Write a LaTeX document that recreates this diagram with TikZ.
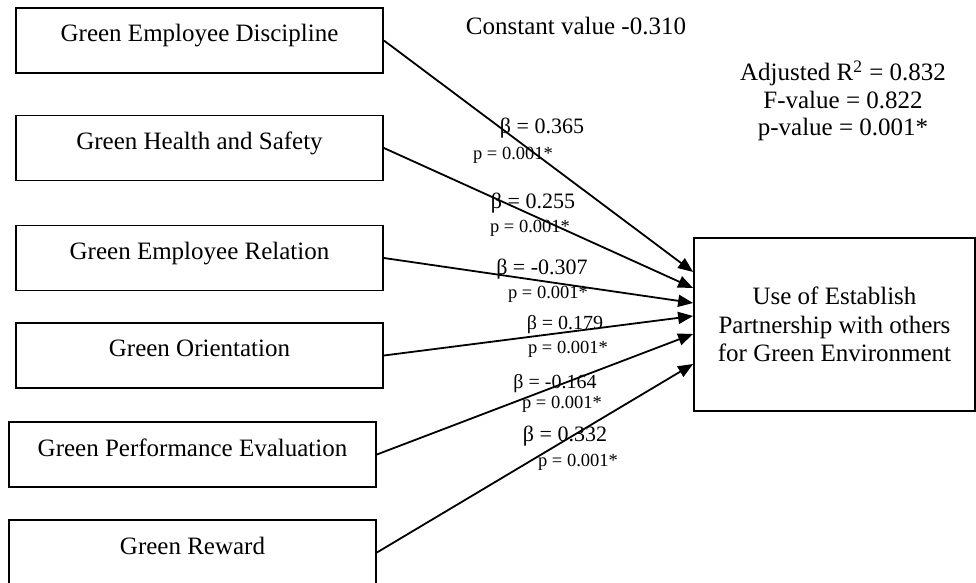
\documentclass[tikz,border=0pt]{standalone}
\usepackage{fontspec}
\setmainfont{Liberation Serif}
\usetikzlibrary{arrows.meta, positioning}

\begin{document}
\begin{tikzpicture}[
    x=0.5pt, y=-0.5pt,
    box/.style={rectangle, draw, line width=0.9pt, minimum width=183.5pt, minimum height=32.5pt, inner sep=0pt, text height=0.75em, text depth=0.6em, font=\fontsize{12.5}{14}\selectfont},
    outcome/.style={rectangle, draw, line width=0.9pt, minimum width=140.5pt, minimum height=86.5pt, align=center, font=\fontsize{12.5}{14.25}\selectfont},
    arrow/.style={-{Triangle[length=7.5pt, width=6pt]}, line width=0.9pt},
    beta/.style={inner sep=0pt, font=\fontsize{11}{13}\selectfont},
    pval/.style={inner sep=0pt, font=\fontsize{9.25}{11}\selectfont},
    stat/.style={align=center, inner sep=0pt, font=\fontsize{12.5}{13.75}\selectfont}
]
    \useasboundingbox (0,0) rectangle (976,583);

    % predictors
    \node[box] (discipline) at (199.5,40.5) {Green Employee Discipline};
    \node[box, below=20.35pt of discipline] (health) {Green Health and Safety};
    \node[box, below=21.6pt of health] (relation) {Green Employee Relation};
    \node[box, below=15.35pt of relation] (orientation) {Green Orientation};
    \node[box, below=16.1pt of orientation, xshift=-3.5pt] (performance) {Green Performance Evaluation};
    \node[box, below=15.6pt of performance] (reward) {Green Reward};

    % outcome
    \node[outcome] (partner) at (834.5,324.5) {Use of Establish\\Partnership with others\\for Green Environment};

    \node[stat] (const) at (576,26) {Constant value -0.310};
    \node[stat] (fit) at (843,101) {Adjusted R\textsuperscript{2} = 0.832\\F-value = 0.822\\p-value = 0.001*};

    \draw[arrow] (discipline.east) -- ([yshift=26.25pt]partner.west);
    \draw[arrow] (health.east) -- ([yshift=18.25pt]partner.west);
    \draw[arrow] (relation.east) -- ([yshift=10.75pt]partner.west);
    \draw[arrow] (orientation.east) -- ([yshift=4.25pt]partner.west);
    \draw[arrow] (performance.east) -- ([yshift=-4.75pt]partner.west);
    \draw[arrow] (reward.east) -- ([yshift=-19.75pt]partner.west);

    % coefficients
    \node[beta] (b1) at (542,128) {β = 0.365};
    \node[pval] (p1) at (513,155) {p = 0.001*};
    \node[beta] (b2) at (533,203) {β = 0.255};
    \node[pval] (p2) at (530,228) {p = 0.001*};
    \node[beta] (b3) at (542,269) {β = -0.307};
    \node[pval] (p3) at (548,294) {p = 0.001*};
    \node[beta, font=\fontsize{10}{12}\selectfont] (b4) at (565,325) {β = 0.179};
    \node[pval] (p4) at (568,349) {p = 0.001*};
    \node[beta, font=\fontsize{10}{12}\selectfont] (b5) at (555,384) {β = -0.164};
    \node[pval] (p5) at (562,404) {p = 0.001*};
    \node[beta] (b6) at (565,436) {β = 0.332};
    \node[pval] (p6) at (578,462) {p = 0.001*};
\end{tikzpicture}
\end{document}
